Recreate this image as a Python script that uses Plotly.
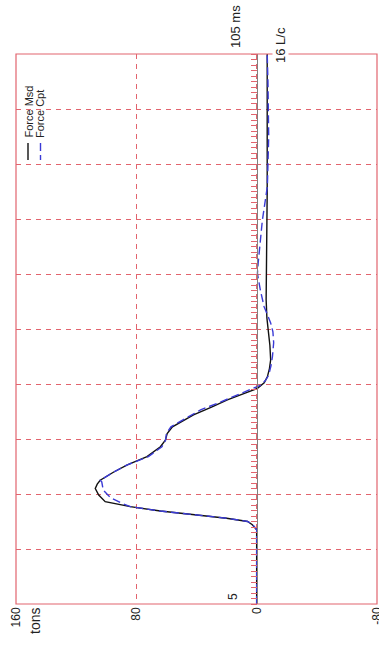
import plotly.graph_objects as go

# ---- data (time in ms, force in tons) ----
t_msd = [5, 18.5, 19.4, 20.0, 20.6, 21.2, 21.9, 22.7, 23.6, 24.8, 26.0, 26.8, 27.5, 29.0, 30.3,
         31.8, 33.6, 34.8, 36.0, 37.2, 38.3, 39.4, 40.8, 42.1, 43.2, 44.2, 45.2, 46.3, 47.8,
         49.4, 52.0, 54.3, 57.0, 60.3, 65.0, 70.0, 80.0, 90.0, 100.0, 105.0]
f_msd = [0, 0, 2.9, 6, 20, 40, 64, 84, 100.7, 105, 107.3, 106, 104, 95, 86,
         72.9, 64, 60.7, 59.5, 56, 49, 42, 30, 19.5, 9, -0.5, -5, -7.1, -8.5,
         -9.3, -8.8, -8, -6.8, -6.3, -6.5, -7, -7, -7, -7, -7]

t_cpt = [5, 18.5, 19.4, 20.0, 20.6, 21.2, 21.9, 22.7, 23.3, 24.3, 25.7, 27.2, 27.5, 29.0, 30.3,
         31.8, 33.6, 34.8, 36.0, 37.2, 38.3, 40.3, 41.5, 42.7, 43.8, 44.8, 45.7, 46.6, 48.3,
         50.0, 52.5, 54.5, 56.1, 59.1, 62.0, 65.1, 67.0, 70.0, 74.8, 80.9, 90.0, 100.0, 105.0]
f_cpt = [0, 0, 2.5, 6, 20, 40, 64, 84, 89.5, 97, 102, 103, 104, 95, 86,
         72, 63, 60.5, 60, 57, 50, 37.3, 26, 15.3, 6, -2.7, -6, -8, -9.5,
         -10.5, -11.3, -10.8, -9.3, -4.9, -2.5, -0.5, -1, -2, -3.8, -7.1, -8, -7.5, -7]

force_ticks = [160, 80, 0, -80]
force_labels = ["160", "80", "0", "-80"]
t_range = [5, 105]
f_range = [160, -80]

RED = "#e2646e"
FONT = "Liberation Sans, Arial, sans-serif"

fig = go.Figure()
fig.add_trace(go.Scatter(x=f_msd, y=t_msd, mode="lines", name="Force Msd",
                         line=dict(color="#111111", width=1.4)))
fig.add_trace(go.Scatter(x=f_cpt, y=t_cpt, mode="lines", name="Force Cpt",
                         line=dict(color="#3a3ad6", width=1.4, dash="8px,4px")))

W, H = 379, 645
L, R, T, B = 16, 2, 54, 41
pw = W - L - R
ph = H - T - B
zero_pos = (0 - f_range[0]) / (f_range[1] - f_range[0])

fig.update_layout(
    width=W, height=H,
    margin=dict(l=L, r=R, t=T, b=B),
    paper_bgcolor="white", plot_bgcolor="white",
    showlegend=False,
    font=dict(family=FONT, color="#222222", size=12),
    xaxis=dict(range=f_range, tickvals=force_ticks, ticktext=force_labels,
               tickangle=-90, ticks="", showline=False, zeroline=False,
               showgrid=True, gridcolor=RED, griddash="5px,5px", gridwidth=1,
               tickfont=dict(size=12, family=FONT, color="#222222"),
               ticklabeloverflow="allow",
               automargin=False, fixedrange=True),
    yaxis=dict(range=t_range, anchor="free", position=zero_pos, side="left",
               showline=True, linecolor="#808080", linewidth=1,
               tick0=5, dtick=10, ticks="outside", ticklen=6, tickcolor=RED,
               tickwidth=1, showticklabels=False, zeroline=False,
               showgrid=True, gridcolor=RED, griddash="5px,5px", gridwidth=1,
               minor=dict(dtick=1, tick0=5, ticks="outside", ticklen=6,
                          tickcolor=RED, tickwidth=1, showgrid=False),
               automargin=False, fixedrange=True),
)

# frame
fig.add_shape(type="rect", xref="paper", yref="paper", x0=0, x1=1, y0=0, y1=1,
              line=dict(color=RED, width=1.2), layer="above")

def px_x(x):
    return (x - L) / pw

def px_y(y):
    return (H - B - y) / ph

# legend (rotated)
fig.add_shape(type="line", xref="paper", yref="paper",
              x0=px_x(28), x1=px_x(28), y0=px_y(143), y1=px_y(160),
              line=dict(color="#111111", width=1.4))
fig.add_shape(type="line", xref="paper", yref="paper",
              x0=px_x(40.5), x1=px_x(40.5), y0=px_y(143), y1=px_y(160),
              line=dict(color="#3a3ad6", width=1.4, dash="8px,4px"))

anns = [
    dict(text="Force Msd", x=px_x(29), y=px_y(111.5), size=11),
    dict(text="Force Cpt", x=px_x(40), y=px_y(114), size=11),
    dict(text="tons", x=px_x(35), y=px_y(621), size=14),
    dict(text="5", x=px_x(233), y=px_y(597), size=12),
    dict(text="105 ms", x=px_x(236), y=px_y(26), size=13),
    dict(text="16 L/c", x=px_x(280), y=px_y(45), size=13, bg="white"),
]
for a in anns:
    fig.add_annotation(text=a["text"], xref="paper", yref="paper", x=a["x"], y=a["y"],
                       xanchor="center", yanchor="middle", textangle=-90, showarrow=False,
                       font=dict(size=a["size"], family=FONT, color="#222222"),
                       bgcolor=a.get("bg", "rgba(0,0,0,0)"), borderpad=0)

fig.write_html("out.html",
               config={"displayModeBar": False},
               post_script="document.body.style.margin='0';document.body.style.overflow='hidden';")
